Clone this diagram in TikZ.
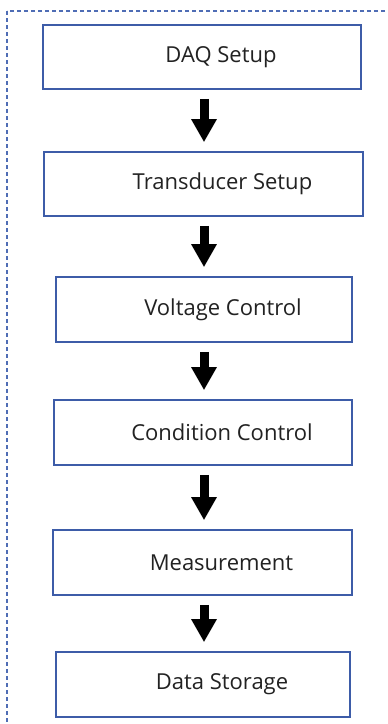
\documentclass[tikz,border=0pt]{standalone}
\usepackage{fontspec}
\setmainfont{Open Sans}
\usetikzlibrary{arrows.meta}
\definecolor{boxblue}{HTML}{3D5CA8}
\definecolor{framblue}{HTML}{4F6DB5}
\definecolor{txt}{HTML}{222222}
\tikzset{
  x=1pt, y=-1pt,
  stepbox/.style={draw=boxblue, line width=1.6pt, fill=white, inner sep=0pt,
    font=\fontsize{22}{26}\selectfont, text=txt},
  flow/.style={line width=9pt, -{Triangle[width=24pt,length=23pt]},
    shorten <=9pt, shorten >=9pt},
}
\newcommand{\boxtext}[1]{\hspace*{38pt}#1}
\begin{document}
\begin{tikzpicture}
  \useasboundingbox (0,0) rectangle (388,724);
  \begin{scope}
    \clip (0,0) rectangle (388,724);
    % outer dashed frame, running past the right and bottom edges
    \draw[framblue, line width=1.1pt, dash pattern=on 4pt off 3pt]
      (7,11) rectangle (420,760);
  \end{scope}

  \node[stepbox, minimum width=318pt, minimum height=64pt] (daq)  at (202,57)    {\boxtext{DAQ Setup}};
  \node[stepbox, minimum width=319pt, minimum height=64pt] (trd)  at (203.5,184) {\boxtext{Transducer Setup}};
  \node[stepbox, minimum width=296pt, minimum height=65pt] (volt) at (204,309.5) {\boxtext{Voltage Control}};
  \node[stepbox, minimum width=298pt, minimum height=65pt] (cond) at (203,432.5) {\boxtext{Condition Control}};
  \node[stepbox, minimum width=299pt, minimum height=65pt] (meas) at (202.5,562.5){\boxtext{Measurement}};
  \node[stepbox, minimum width=294pt, minimum height=65pt] (stor) at (203,684.5) {\boxtext{Data Storage}};

  \coordinate (ax) at (204,0);
  \draw[flow] (daq.south -| ax)  -- (trd.north -| ax);
  \draw[flow] (trd.south -| ax)  -- (volt.north -| ax);
  \draw[flow] (volt.south -| ax) -- (cond.north -| ax);
  \draw[flow] (cond.south -| ax) -- (meas.north -| ax);
  \draw[flow] (meas.south -| ax) -- (stor.north -| ax);
\end{tikzpicture}
\end{document}
